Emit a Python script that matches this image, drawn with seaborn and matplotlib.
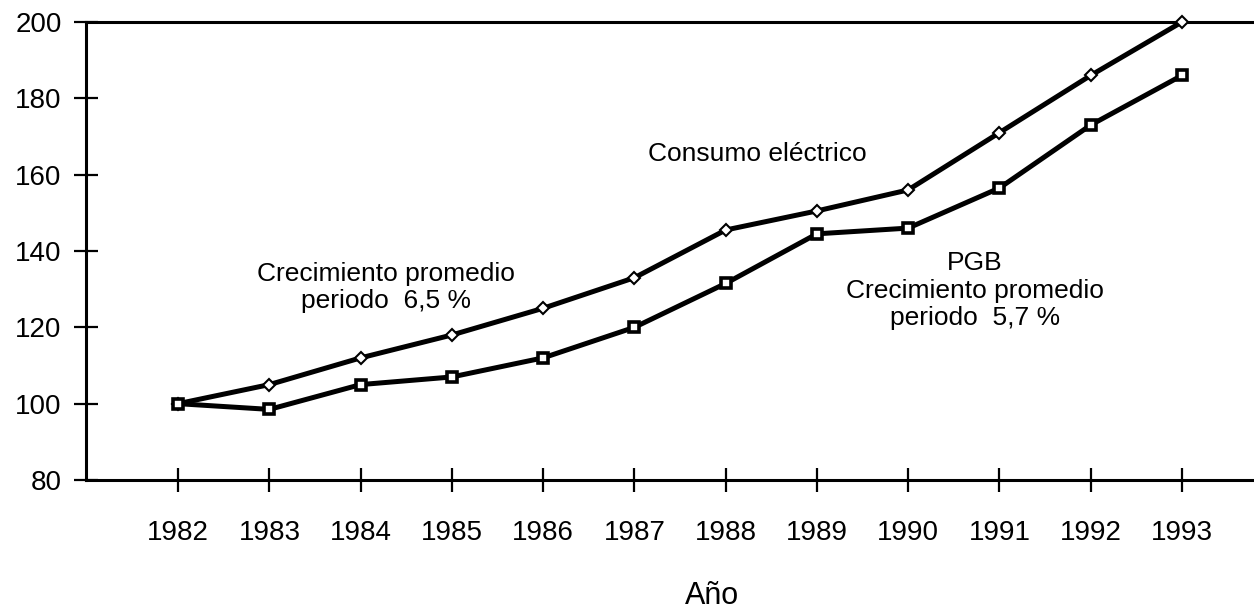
import matplotlib
matplotlib.use('Agg')
import matplotlib.pyplot as plt
import pandas as pd
import seaborn as sns

# Data (index 1982 = 100)
years = [1982, 1983, 1984, 1985, 1986, 1987, 1988, 1989, 1990, 1991, 1992, 1993]
consumo = [100, 105, 112, 118, 125, 133, 145.5, 150.5, 156, 171, 186, 200]
pgb = [100, 98.5, 105, 107, 112, 120, 131.5, 144.5, 146, 156.5, 173, 186]
y_ticks = [80, 100, 120, 140, 160, 180, 200]

sns.set_style('white')
plt.rcParams['font.family'] = ['Liberation Sans', 'DejaVu Sans']
plt.rcParams['text.color'] = 'black'
plt.rcParams['axes.labelcolor'] = 'black'
plt.rcParams['xtick.color'] = 'black'
plt.rcParams['ytick.color'] = 'black'

df = pd.DataFrame({'Año': years, 'Consumo': consumo, 'PGB': pgb})

fig = plt.figure(figsize=(12.54, 6.15), dpi=100)
ax = fig.add_axes([86 / 1254, 1 - 480 / 615, 1168 / 1254, 458 / 615])

# Consumo electrico - open diamonds
sns.lineplot(data=df, x='Año', y='Consumo', ax=ax, color='black', lw=3.6,
             marker='D', markersize=6, markerfacecolor='white',
             markeredgecolor='black', markeredgewidth=1.5, clip_on=False, zorder=3)
# PGB - dark squares
sns.lineplot(data=df, x='Año', y='PGB', ax=ax, color='black', lw=3.6,
             marker='s', markersize=7, markerfacecolor='white',
             markeredgecolor='black', markeredgewidth=2.6, clip_on=False, zorder=3)

ax.set_xlim(1980.99, 1993.79)
ax.set_ylim(80, 200)
ax.set_xticks(years)
ax.set_yticks(y_ticks)
ax.tick_params(bottom=True, left=True, direction='inout', length=17, width=1.6,
               labelsize=20, color='black', labelcolor='black')
ax.tick_params(axis='x', pad=20)
ax.tick_params(axis='y', pad=9)

for side in ['left', 'bottom', 'top']:
    ax.spines[side].set_visible(True)
    ax.spines[side].set_color('black')
    ax.spines[side].set_linewidth(2.2)
ax.spines['right'].set_visible(False)

ax.set_ylabel('')
ax.set_xlabel('Año', fontsize=22, color='black')
ax.xaxis.set_label_coords((712 - 86) / 1168, -0.22)

# annotations
ax.text(1988.35, 165.3, 'Consumo eléctrico', ha='center', va='center',
        fontsize=19, color='black')
ax.text(1984.28, 130.4, 'Crecimiento promedio\nperiodo  6,5 %', ha='center',
        va='center', fontsize=19, linespacing=1.15, color='black')
ax.text(1990.73, 129.6, 'PGB\nCrecimiento promedio\nperiodo  5,7 %', ha='center',
        va='center', fontsize=19, linespacing=1.2, color='black')

plt.savefig('out.png', dpi=100)
